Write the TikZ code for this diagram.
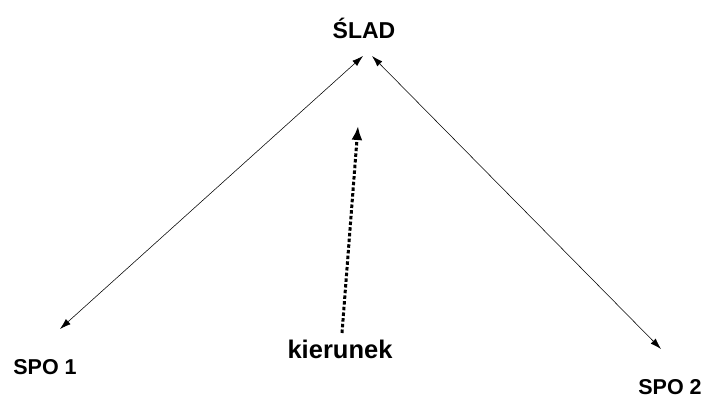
\documentclass[tikz,border=0pt]{standalone}
\usepackage{fontspec}
\setmainfont{Liberation Sans}
\usetikzlibrary{arrows.meta}
\begin{document}
\begin{tikzpicture}[x=1pt,y=-1pt,
  lbl/.style={font=\bfseries\fontsize{21.5}{23}\selectfont, inner sep=1pt, anchor=base},
  thinarrow/.style={line width=0.55pt, {Latex[length=11pt,width=7pt]}-{Latex[length=11pt,width=7pt]}},
  dasharrow/.style={line width=3pt, dash pattern=on 3.5pt off 2.2pt, -{Latex[length=14pt,width=11pt]}}]
\useasboundingbox (0,0) rectangle (704,401);
\node[lbl, font=\bfseries\fontsize{23}{25}\selectfont] (slad) at (364,39) {ŚLAD};
\node[lbl] (spo1) at (45,374) {SPO 1};
\node[lbl] (spo2) at (670,394) {SPO 2};
\node[lbl, font=\bfseries\fontsize{25.5}{27}\selectfont] (kier) at (340,358) {kierunek};
\coordinate (a1) at (363,56);
\coordinate (a2) at (372,56);
\coordinate (b1) at (60,329);
\coordinate (b2) at (661,349);
\coordinate (d1) at (342,333);
\coordinate (d2) at (358,126);
\draw[thinarrow] (a1) -- (b1);
\draw[thinarrow] (a2) -- (b2);
\draw[dasharrow] (d1) -- (d2);
\end{tikzpicture}
\end{document}
